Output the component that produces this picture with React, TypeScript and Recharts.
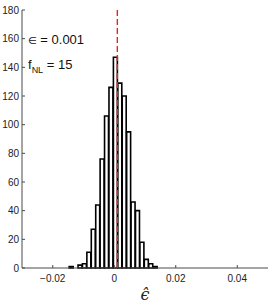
import React from 'react';
import { BarChart, Bar, XAxis, YAxis, ReferenceLine } from 'recharts';

const binCenters = [
  -0.01394, -0.0125, -0.01106, -0.00963, -0.00819, -0.00675, -0.00531, -0.00388, -0.00244, -0.001,
  0.00044, 0.00188, 0.00331, 0.00475, 0.00619, 0.00763, 0.00907, 0.0105, 0.01194, 0.01338,
];
const counts = [1, 0, 2, 3, 11, 27, 44, 76, 106, 126, 147, 129, 120, 95, 46, 40, 18, 6, 3, 1];
const xTicks = [-0.02, 0, 0.02, 0.04];
const yTicks = [0, 20, 40, 60, 80, 100, 120, 140, 160, 180];
const epsilonTrue = 0.001;
const annotationEpsSym = '\u2208';
const annotationEpsVal = ' = 0.001';
const annotationF = 'f';
const annotationFSub = 'NL';
const annotationFVal = ' = 15';
const xLabel = '\u03F5\u0302';

const data = binCenters.map((x, i) => ({ x, n: counts[i] }));

const fmt = (v: number) => (v === 0 ? '0' : v < 0 ? '\u2212' + String(Math.abs(v)) : String(v));

const axisColor = '#4a4a4a';
const tickStyle = { fontSize: 10, fill: '#222', fontFamily: 'Liberation Sans, Arial, sans-serif' };

export default function App() {
  return (
    <div style={{ position: 'absolute', left: 0, top: 0, width: 273, height: 304, background: '#fff' }}>
      <BarChart
        width={273}
        height={304}
        data={data}
        margin={{ top: 10, right: 5, left: 0, bottom: 0 }}
        barCategoryGap={0}
        barGap={0}
      >
        <XAxis
          xAxisId="b"
          dataKey="x"
          type="number"
          domain={[-0.03, 0.05]}
          ticks={xTicks}
          tickFormatter={fmt}
          allowDataOverflow
          orientation="bottom"
          height={36}
          stroke={axisColor}
          tickSize={-3}
          tickMargin={10}
          tick={tickStyle}
          label={{
            value: xLabel,
            position: 'insideBottom',
            offset: 4,
            style: { fontSize: 16, fontStyle: 'italic', fill: '#222', fontFamily: 'DejaVu Serif, serif' },
          }}
        />
        <XAxis
          xAxisId="t"
          dataKey="x"
          type="number"
          domain={[-0.03, 0.05]}
          ticks={xTicks}
          allowDataOverflow
          orientation="top"
          height={0}
          stroke={axisColor}
          tickSize={-3}
          tick={false}
        />
        <YAxis
          yAxisId="l"
          type="number"
          domain={[0, 180]}
          ticks={yTicks}
          width={22}
          stroke={axisColor}
          tickSize={-3}
          tickMargin={6}
          tick={tickStyle}
        />
        <YAxis
          yAxisId="r"
          type="number"
          orientation="right"
          domain={[0, 180]}
          ticks={yTicks}
          width={0}
          stroke={axisColor}
          tickSize={-3}
          tick={false}
        />
        <Bar
          xAxisId="b"
          yAxisId="l"
          dataKey="n"
          fill="#ffffff"
          stroke="#000000"
          strokeWidth={1.6}
          barSize={4.42}
          isAnimationActive={false}
        />
        <ReferenceLine
          xAxisId="b"
          yAxisId="l"
          x={epsilonTrue}
          stroke="#e8202a"
          strokeWidth={1.4}
          strokeDasharray="6 3"
        />
      </BarChart>
      <div
        style={{
          position: 'absolute',
          left: 28,
          top: 32,
          fontSize: 13,
          lineHeight: '15px',
          fontFamily: 'Liberation Sans, Arial, sans-serif',
          color: '#111',
          whiteSpace: 'nowrap',
        }}
      >
        <span style={{ fontSize: 10, fontFamily: 'DejaVu Sans, sans-serif' }}>{annotationEpsSym}</span>
        {annotationEpsVal}
      </div>
      <div
        style={{
          position: 'absolute',
          left: 28,
          top: 57,
          fontSize: 13,
          lineHeight: '15px',
          fontFamily: 'Liberation Sans, Arial, sans-serif',
          color: '#111',
          whiteSpace: 'nowrap',
        }}
      >
        {annotationF}
        <sub style={{ fontSize: 9, verticalAlign: '-4px' }}>{annotationFSub}</sub>
        {annotationFVal}
      </div>
    </div>
  );
}
